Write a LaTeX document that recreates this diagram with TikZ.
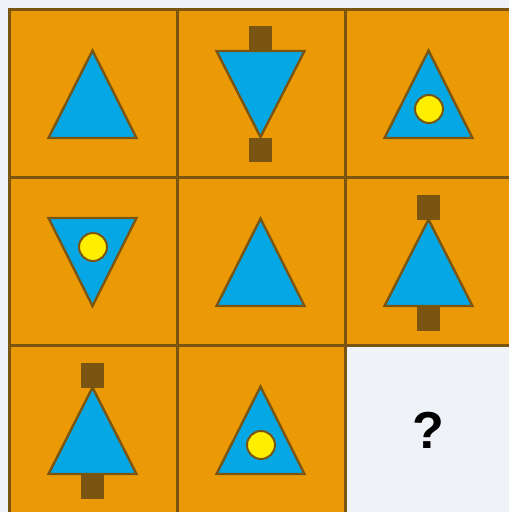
\documentclass[tikz,border=0pt]{standalone}
\usepackage{fontspec}
\newfontfamily\qfont{Liberation Sans}
\definecolor{bgc}{HTML}{EFF2F7}
\definecolor{cellc}{HTML}{EB9A05}
\definecolor{brownc}{HTML}{7A5512}
\definecolor{bluec}{HTML}{05A8E5}
\definecolor{yelc}{HTML}{FFEE00}
\tikzset{
  cellbox/.style={draw=brownc, fill=cellc, line width=2.2pt, rectangle, minimum width=168pt, minimum height=168pt, inner sep=0pt, outer sep=0pt},
  tri/.style={draw=brownc, fill=bluec, line width=2.4pt, line join=miter},
  dotc/.style={draw=brownc, fill=yelc, line width=2pt},
  stem/.style={fill=brownc},
}
\newcommand{\uptri}[2]{% center x, center y
  \path[tri] (#1-1,#2-43) -- (#1+43,#2+44.5) -- (#1-45,#2+44.5) -- cycle;}
\newcommand{\downtri}[2]{%
  \path[tri] (#1-45,#2-43.5) -- (#1+43,#2-43.5) -- (#1-1,#2+44.5) -- cycle;}
\newcommand{\treetri}[2]{%
  \fill[stem] (#1-12.5,#2-42-25) rectangle (#1+10.5,#2-42);
  \fill[stem] (#1-12.5,#2+44.5) rectangle (#1+10.5,#2+69);
  \path[tri] (#1-1,#2-42) -- (#1+43,#2+44.5) -- (#1-45,#2+44.5) -- cycle;}
\begin{document}
\begin{tikzpicture}[x=1pt,y=-1pt]
\fill[bgc] (0,0) rectangle (509,512);
\useasboundingbox (0,0) rectangle (509,512);
\clip (0,0) rectangle (509,512);
% cells
\node[cellbox] (c11) at (93.5,93.5) {};
\node[cellbox] (c12) at (261.5,93.5) {};
\node[cellbox] (c13) at (429.5,93.5) {};
\node[cellbox] (c21) at (93.5,261.5) {};
\node[cellbox] (c22) at (261.5,261.5) {};
\node[cellbox] (c23) at (429.5,261.5) {};
\node[cellbox] (c31) at (93.5,429.5) {};
\node[cellbox] (c32) at (261.5,429.5) {};
% row 1
\uptri{93.5}{93.5}
\fill[stem] (249,26) rectangle (272,51);
\fill[stem] (249,138) rectangle (272,162);
\path[tri] (216.5,51) -- (304.5,51) -- (260.5,137) -- cycle;
\uptri{429.5}{93.5}
\draw[dotc] (429,109) circle (14);
% row 2
\downtri{93.5}{261.5}
\draw[dotc] (93,247) circle (14);
\uptri{261.5}{261.5}
\treetri{429.5}{261.5}
% row 3
\treetri{93.5}{429.5}
\uptri{261.5}{429.5}
\draw[dotc] (261,445) circle (14);
\node[font=\qfont\bfseries\fontsize{52}{52}\selectfont, inner sep=0pt] (q) at (428,430) {?};
\end{tikzpicture}
\end{document}
